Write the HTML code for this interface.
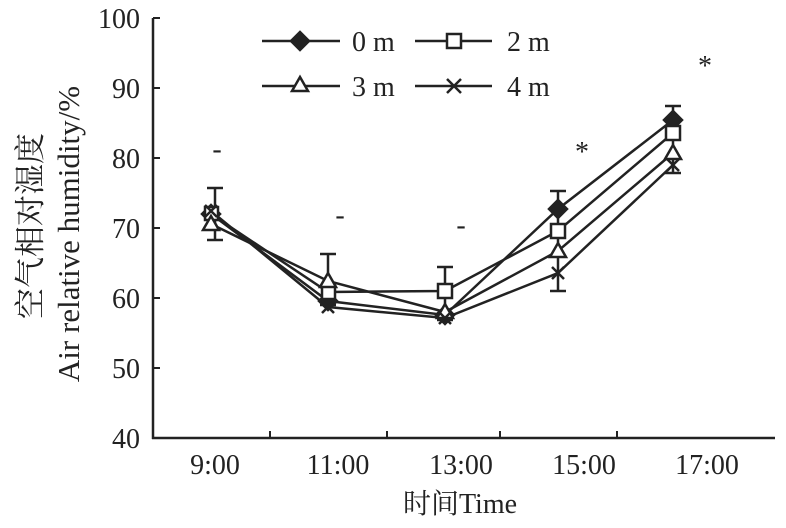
<!DOCTYPE html><html><head><style>body{margin:0;background:#fff}</style></head><body>
<svg width="786" height="523" xmlns="http://www.w3.org/2000/svg" font-family="Liberation Serif, Noto Serif CJK SC, serif" fill="#222">
<g stroke="#222" stroke-width="2.5" fill="none">
<line x1="153" y1="18" x2="153" y2="439"/>
<line x1="152" y1="438" x2="775" y2="438"/>
<g stroke-width="2">
<line x1="153" y1="18" x2="160" y2="18"/><line x1="153" y1="88" x2="160" y2="88"/><line x1="153" y1="158" x2="160" y2="158"/><line x1="153" y1="228" x2="160" y2="228"/><line x1="153" y1="298" x2="160" y2="298"/><line x1="153" y1="368" x2="160" y2="368"/>
<line x1="270" y1="438" x2="270" y2="431"/><line x1="387" y1="438" x2="387" y2="431"/><line x1="500" y1="438" x2="500" y2="431"/><line x1="617" y1="438" x2="617" y2="431"/>
</g>
</g>
<g font-size="28" text-anchor="end"><text x="140" y="28">100</text><text x="140" y="98">90</text><text x="140" y="168">80</text><text x="140" y="238">70</text><text x="140" y="308">60</text><text x="140" y="378">50</text><text x="140" y="448">40</text></g>
<g font-size="28" text-anchor="middle"><text x="215" y="474">9:00</text><text x="338" y="474">11:00</text><text x="461" y="474">13:00</text><text x="584" y="474">15:00</text><text x="707" y="474">17:00</text>
<text x="460" y="513">时间Time</text></g>
<text transform="translate(41,226) rotate(-90)" font-size="31" text-anchor="middle">空气相对湿度</text>
<text transform="translate(79,234) rotate(-90)" font-size="31" text-anchor="middle">Air relative humidity/%</text>
<g font-size="28" text-anchor="middle"><text x="217" y="158">-</text><text x="340" y="224">-</text><text x="461" y="234">-</text><text x="582" y="161">*</text><text x="705" y="75">*</text></g>
<g stroke="#222" stroke-width="2.5" fill="none">
<path d="M215,188V240M207,188H223M207,240H223 M328,254V305M320,254H336M320,305H336 M445,267V320M437,267H453M437,320H453 M558,191V291M550,191H566M550,291H566 M673,106V173M665,106H681M665,173H681"/>
<polyline points="211,214 328,301 445,315 558,209 673,120"/>
<polyline points="211,214 328,292 445,291 558,231 673,133"/>
<polyline points="211,224 328,281 445,312 558,251 673,153"/>
<polyline points="211,211 328,307 445,318 558,273 673,165"/>
</g>
<g stroke="#222" stroke-width="2.5">
<path d="M211,205 l9,9 l-9,9 l-9,-9z M328,292 l9,9 l-9,9 l-9,-9z M445,306 l9,9 l-9,9 l-9,-9z M558,200 l9,9 l-9,9 l-9,-9z M673,111 l9,9 l-9,9 l-9,-9z" fill="#222"/>
<g fill="#fff"><rect x="205" y="207" width="13" height="13"/><rect x="322" y="286" width="13" height="13"/><rect x="438" y="284" width="14" height="14"/><rect x="551" y="224" width="14" height="14"/><rect x="666" y="126" width="14" height="14"/>
<path d="M211,216 l8,14 h-16z M328,273 l8,14 h-16z M445,304 l8,14 h-16z M558,243 l8,14 h-16z M673,145 l8,14 h-16z"/></g>
<path d="M205,205l12,12M217,205l-12,12 M322,301l12,12M334,301l-12,12 M439,312l12,12M451,312l-12,12 M552,267l12,12M564,267l-12,12 M667,159l12,12M679,159l-12,12"/>
<line x1="262" y1="41" x2="340" y2="41"/><path d="M300,32l9,9l-9,9l-9,-9z" fill="#222"/>
<line x1="415" y1="41" x2="492" y2="41"/><rect x="447" y="34" width="14" height="14" fill="#fff"/>
<line x1="262" y1="86" x2="340" y2="86"/><path d="M300,77l8,14h-16z" fill="#fff"/>
<line x1="415" y1="86" x2="492" y2="86"/><path d="M447,79l14,14M461,79l-14,14"/>
</g>
<g font-size="28"><text x="352" y="51">0 m</text><text x="507" y="51">2 m</text><text x="352" y="96">3 m</text><text x="507" y="96">4 m</text></g>
</svg></body></html>
